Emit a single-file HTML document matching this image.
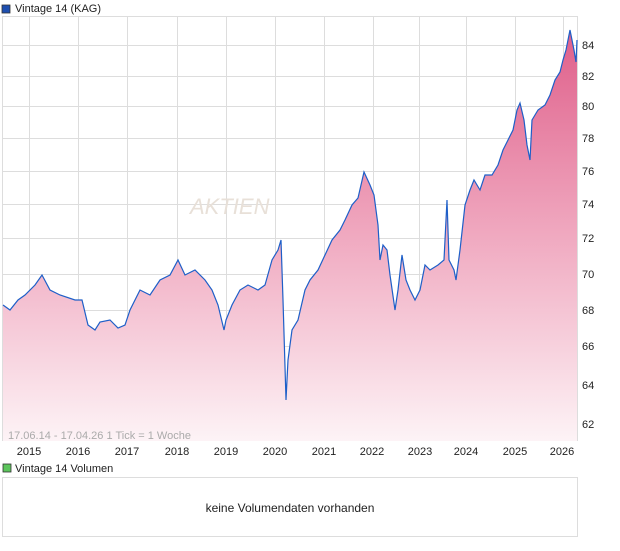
<!DOCTYPE html><html><head><style>body{margin:0;background:#fff;font-family:"Liberation Sans",sans-serif}</style></head><body>
<svg width="620" height="546" xmlns="http://www.w3.org/2000/svg" font-family="Liberation Sans, sans-serif">
<defs><linearGradient id="g" x1="0" y1="0" x2="0" y2="1"><stop offset="0" stop-color="#df5f8a"/><stop offset="0.5" stop-color="#f0a9c0"/><stop offset="1" stop-color="#fdf3f6"/></linearGradient></defs>
<rect x="2" y="5" width="8" height="8" fill="#1e4fb0" stroke="#333" stroke-width="0.8"/>
<text x="15" y="12" font-size="11" fill="#222">Vintage 14 (KAG)</text>
<rect x="2.5" y="16.5" width="575" height="424" fill="#fff" stroke="#ddd"/>
<g stroke="#ddd" stroke-width="1">
<line x1="29.5" y1="17" x2="29.5" y2="441"/><line x1="78.5" y1="17" x2="78.5" y2="441"/><line x1="127.5" y1="17" x2="127.5" y2="441"/><line x1="177.5" y1="17" x2="177.5" y2="441"/><line x1="226.5" y1="17" x2="226.5" y2="441"/><line x1="275.5" y1="17" x2="275.5" y2="441"/><line x1="324.5" y1="17" x2="324.5" y2="441"/><line x1="373.5" y1="17" x2="373.5" y2="441"/><line x1="419.5" y1="17" x2="419.5" y2="441"/><line x1="466.5" y1="17" x2="466.5" y2="441"/><line x1="515.5" y1="17" x2="515.5" y2="441"/><line x1="563.5" y1="17" x2="563.5" y2="441"/>
<line x1="3" y1="45.5" x2="578" y2="45.5"/><line x1="3" y1="76.5" x2="578" y2="76.5"/><line x1="3" y1="106.5" x2="578" y2="106.5"/><line x1="3" y1="138.5" x2="578" y2="138.5"/><line x1="3" y1="171.5" x2="578" y2="171.5"/><line x1="3" y1="204.5" x2="578" y2="204.5"/><line x1="3" y1="238.5" x2="578" y2="238.5"/><line x1="3" y1="274.5" x2="578" y2="274.5"/><line x1="3" y1="310.5" x2="578" y2="310.5"/><line x1="3" y1="346.5" x2="578" y2="346.5"/><line x1="3" y1="385.5" x2="578" y2="385.5"/><line x1="3" y1="424.5" x2="578" y2="424.5"/>
</g>
<text x="190" y="214" font-size="22" fill="#e8e0d8" font-style="italic">AKTIEN</text>
<polygon fill="url(#g)" points="3,441 3,305 10,310 18,300 25,295 35,285 42,275 50,290 60,295 75,300 82,300 88,325 95,330 100,322 110,320 118,328 125,325 130,310 140,290 150,295 160,280 170,275 178,260 185,275 195,270 205,280 212,290 218,305 224,330 226,320 232,305 240,290 248,285 258,290 265,285 272,260 278,250 281,240 283,300 286,400 288,360 292,330 298,320 305,290 310,280 318,270 325,255 332,240 340,230 345,220 352,205 358,198 364,172 370,185 374,195 378,225 380,260 383,245 387,250 390,275 395,310 398,290 402,255 406,280 410,290 415,300 420,290 425,265 430,270 438,265 444,260 447,200 449,260 454,270 456,280 460,250 465,205 470,190 474,180 480,190 485,175 492,175 498,165 503,150 508,140 513,130 517,110 520,103 524,120 527,145 530,160 532,120 538,110 545,105 550,95 555,80 560,72 563,60 566,50 570,30 574,50 576,62 577,40 577,441"/>
<polyline fill="none" stroke="#1e5fc8" stroke-width="1.2" points="3,305 10,310 18,300 25,295 35,285 42,275 50,290 60,295 75,300 82,300 88,325 95,330 100,322 110,320 118,328 125,325 130,310 140,290 150,295 160,280 170,275 178,260 185,275 195,270 205,280 212,290 218,305 224,330 226,320 232,305 240,290 248,285 258,290 265,285 272,260 278,250 281,240 283,300 286,400 288,360 292,330 298,320 305,290 310,280 318,270 325,255 332,240 340,230 345,220 352,205 358,198 364,172 370,185 374,195 378,225 380,260 383,245 387,250 390,275 395,310 398,290 402,255 406,280 410,290 415,300 420,290 425,265 430,270 438,265 444,260 447,200 449,260 454,270 456,280 460,250 465,205 470,190 474,180 480,190 485,175 492,175 498,165 503,150 508,140 513,130 517,110 520,103 524,120 527,145 530,160 532,120 538,110 545,105 550,95 555,80 560,72 563,60 566,50 570,30 574,50 576,62 577,40"/>
<g font-size="11" fill="#222">
<text x="582" y="49">84</text><text x="582" y="80">82</text><text x="582" y="110">80</text><text x="582" y="142">78</text><text x="582" y="175">76</text><text x="582" y="208">74</text><text x="582" y="242">72</text><text x="582" y="278">70</text><text x="582" y="314">68</text><text x="582" y="350">66</text><text x="582" y="389">64</text><text x="582" y="428">62</text>
</g>
<text x="8" y="439" font-size="11" fill="#aaa">17.06.14 - 17.04.26   1 Tick = 1 Woche</text>
<g font-size="11" fill="#222" text-anchor="middle">
<text x="29" y="455">2015</text><text x="78" y="455">2016</text><text x="127" y="455">2017</text><text x="177" y="455">2018</text><text x="226" y="455">2019</text><text x="275" y="455">2020</text><text x="324" y="455">2021</text><text x="372" y="455">2022</text><text x="420" y="455">2023</text><text x="466" y="455">2024</text><text x="515" y="455">2025</text><text x="562" y="455">2026</text>
</g>
<rect x="3" y="464" width="8" height="8" fill="#5cc55c" stroke="#333" stroke-width="0.8"/>
<text x="15" y="472" font-size="11" fill="#222">Vintage 14 Volumen</text>
<rect x="2.5" y="477.5" width="575" height="59" fill="#fff" stroke="#ddd"/>
<text x="290" y="512" font-size="12" fill="#222" text-anchor="middle">keine Volumendaten vorhanden</text>
</svg></body></html>
